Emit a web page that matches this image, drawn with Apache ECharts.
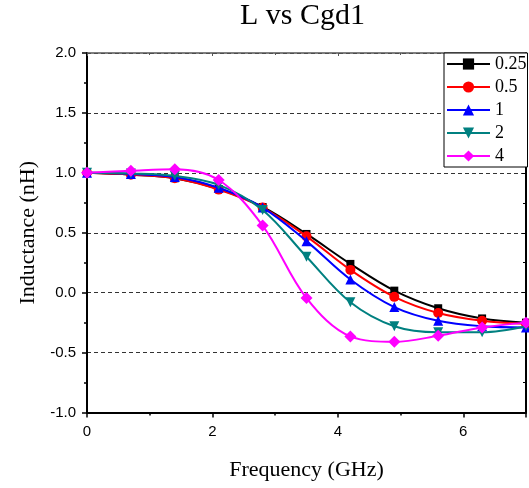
<!DOCTYPE html>
<html><head><meta charset="utf-8">
<script src="https://cdn.jsdelivr.net/npm/echarts@6/dist/echarts.min.js"></script>
<style>html,body{margin:0;padding:0;background:#fff}#c{width:529px;height:488px}</style>
</head><body><div id="c"></div>
<script>
var freq = [0, 0.7, 1.4, 2.1, 2.8, 3.5, 4.2, 4.9, 5.6, 6.3, 7.0];
var names = ['0.25', '0.5', '1', '2', '4'];
var s025 = [1.0, 0.985, 0.955, 0.865, 0.715, 0.49, 0.24, 0.017, -0.13, -0.215, -0.25];
var s05  = [1.0, 0.985, 0.955, 0.86, 0.71, 0.47, 0.19, -0.035, -0.17, -0.235, -0.26];
var s1   = [1.0, 0.99, 0.965, 0.875, 0.71, 0.43, 0.11, -0.12, -0.235, -0.28, -0.29];
var s2   = [1.0, 0.995, 0.975, 0.90, 0.69, 0.30, -0.08, -0.28, -0.33, -0.33, -0.28];
var s4   = [1.0, 1.017, 1.03, 0.94, 0.56, -0.045, -0.365, -0.41, -0.36, -0.29, -0.25];
var yTicks = ['-1.0', '-0.5', '0.0', '0.5', '1.0', '1.5', '2.0'];
var xTicks = ['0', '2', '4', '6'];

var allData = [s025, s05, s1, s2, s4];
var colors = ['#000000', '#ff0000', '#0000ff', '#008080', '#ff00ff'];
var symbols = ['rect', 'circle', 'triangle', 'path://M0,0 L10,0 L5,9 Z', 'diamond'];
var sizes = [8, 10, 10, 10, 12];

function pairs(arr) { return freq.map(function (f, i) { return [f, arr[i]]; }); }

var series = allData.map(function (d, k) {
  return {
    name: names[k], type: 'line', data: pairs(d), smooth: 0.35,
    symbol: symbols[k], symbolSize: sizes[k], showAllSymbol: true,
    itemStyle: { color: colors[k] },
    lineStyle: { color: colors[k], width: 2 },
    clip: false, z: 2 + k
  };
});

var serif = 'Liberation Serif';
var sans = 'Liberation Sans';
var chart = echarts.init(document.getElementById('c'));
chart.setOption({
  animation: false,
  backgroundColor: '#fff',
  title: { text: 'L vs Cgd1', left: 240, top: 1, padding: 0,
    textStyle: { fontFamily: serif, fontSize: 30, fontWeight: 'normal', color: '#000' } },
  legend: {
    orient: 'vertical', left: 444, top: 53, padding: [2, 1, 2, 2],
    itemWidth: 43, itemHeight: 14, itemGap: 5, itemTextGap: 3,
    borderColor: '#000', borderWidth: 1, backgroundColor: '#fff',
    textStyle: { fontFamily: serif, fontSize: 18, color: '#000' },
    data: names
  },
  grid: { left: 87, right: 2, top: 53, bottom: 75.5 },
  xAxis: [{
    type: 'value', min: 0, max: 7, interval: 2,
    name: 'Frequency (GHz)', nameLocation: 'middle', nameGap: 47,
    nameTextStyle: { fontFamily: serif, fontSize: 22, color: '#000' },
    axisLine: { onZero: false, lineStyle: { color: '#000', width: 2 } },
    axisTick: { show: true, inside: false, length: 5, lineStyle: { color: '#000', width: 1.5 } },
    minorTick: { show: true, splitNumber: 2, length: 3, lineStyle: { color: '#000', width: 1.5 } },
    axisLabel: { margin: 12, fontFamily: sans, fontSize: 15, color: '#000',
      formatter: function (v) { return xTicks.indexOf(String(v)) >= 0 ? String(v) : ''; } },
    splitLine: { show: false }
  }, {
    type: 'value', min: 0, max: 7, interval: 2, position: 'top',
    axisLine: { show: true, onZero: false, lineStyle: { color: '#555', width: 1.5 } },
    axisTick: { show: true, inside: true, length: 3, lineStyle: { color: '#555' } },
    minorTick: { show: true, splitNumber: 2, length: 2, lineStyle: { color: '#555' } },
    axisLabel: { show: false }, splitLine: { show: false }
  }],
  yAxis: [{
    type: 'value', min: -1, max: 2, interval: 0.5,
    name: 'Inductance (nH)', nameLocation: 'middle', nameGap: 46,
    nameTextStyle: { fontFamily: serif, fontSize: 22, color: '#000' },
    axisLine: { show: true, onZero: false, lineStyle: { color: '#000', width: 2 } },
    axisTick: { show: true, inside: false, length: 5, lineStyle: { color: '#000', width: 1.5 } },
    minorTick: { show: true, splitNumber: 2, length: 3, lineStyle: { color: '#000', width: 1.5 } },
    axisLabel: { margin: 11, fontFamily: sans, fontSize: 15, color: '#000',
      formatter: function (v) { var s = v.toFixed(1); return yTicks.indexOf(s) >= 0 ? s : ''; } },
    splitLine: { show: true, lineStyle: { color: '#333', type: [4, 3], width: 1 } }
  }, {
    type: 'value', min: -1, max: 2, interval: 0.5, position: 'right',
    axisLine: { show: true, onZero: false, lineStyle: { color: '#000', width: 2 } },
    axisTick: { show: true, inside: true, length: 4, lineStyle: { color: '#000' } },
    minorTick: { show: true, splitNumber: 2, length: 3, lineStyle: { color: '#000' } },
    axisLabel: { show: false }, splitLine: { show: false }
  }],
  series: series
});
</script></body></html>
